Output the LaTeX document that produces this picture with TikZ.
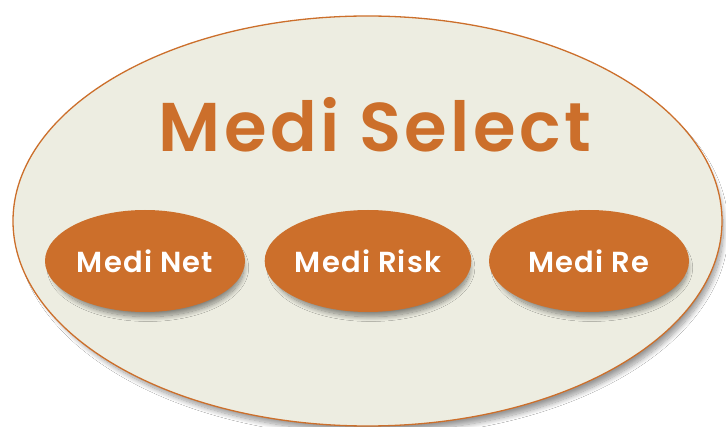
\documentclass[tikz,border=0pt]{standalone}
\usepackage{fontspec}
\usetikzlibrary{shadows.blur,shapes.geometric}
\newfontfamily\titlefont[LetterSpace=5]{Poppins SemiBold}
\newfontfamily\labelfont[LetterSpace=4]{Poppins SemiBold}
\definecolor{medorange}{HTML}{CC6F2B}
\definecolor{medbg}{HTML}{EDEDE1}
\tikzset{
  bigoval/.style={ellipse, draw=medorange, line width=1.3pt, fill=medbg,
    minimum width=709pt, minimum height=410pt, inner sep=0pt,
    blur shadow={shadow xshift=5pt, shadow yshift=-8pt, shadow scale=0.99, shadow blur steps=12, shadow blur radius=5pt, shadow opacity=40}},
  smalloval/.style={ellipse, fill=medorange, draw=none,
    minimum width=200pt, minimum height=102pt, inner sep=0pt,
    text=white, font=\labelfont\fontsize{29}{32}\selectfont,
    blur shadow={shadow xshift=3pt, shadow yshift=-7pt, shadow scale=0.96, shadow blur steps=12, shadow blur radius=5pt, shadow opacity=45}},
  titletext/.style={text=medorange, font=\titlefont\fontsize{69}{76}\selectfont, inner sep=0pt, anchor=base}
}
\begin{document}
\begin{tikzpicture}[x=1pt,y=-1pt]
\useasboundingbox (0,0) rectangle (726,427);
\fill[white] (0,0) rectangle (726,427);
\node[bigoval] (outer) at (367.5,221) {};
\node[titletext] (title) at (375,152) {Medi Select};
\node[smalloval] (net) at (145,261) {Medi Net};
\node[smalloval] (risk) at (368,261) {Medi Risk};
\node[smalloval] (re) at (589,261) {Medi Re};
\end{tikzpicture}
\end{document}
